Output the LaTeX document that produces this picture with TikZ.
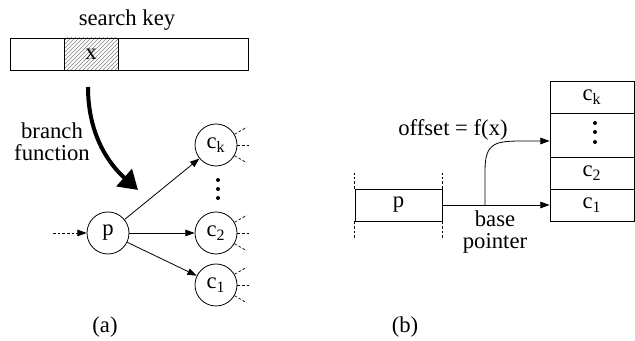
\documentclass[tikz,border=0pt]{standalone}
\usepackage{fontspec}
\setmainfont{Liberation Serif}
\usetikzlibrary{positioning, arrows.meta, patterns, calc}

\tikzset{
    lbl/.style={font=\fontsize{17}{16.5}\selectfont, inner sep=0},
    vertex/.style={draw, circle, minimum size=31.5pt, inner sep=0, line width=0.6pt, lbl},
    cell/.style={draw, rectangle, minimum width=63pt, inner sep=0, line width=0.6pt, lbl},
    link/.style={line width=0.6pt, -{Triangle[length=7pt,width=5pt]}},
    stub/.style={line width=0.5pt, dash pattern=on 2pt off 1.5pt}
}

\begin{document}
\begin{tikzpicture}[x=0.75pt, y=0.75pt]
    \useasboundingbox (0,0) rectangle (635,341);

    % key bar with the hatched slice
    \node[lbl] (key) at (127,321) {search key};
    \node[draw, line width=0.6pt, minimum width=178.5pt, minimum height=24pt, inner sep=0] (bar) at (129,287) {};
    \node[draw, line width=0.6pt, pattern=north east lines, pattern color=gray,
          minimum width=40.5pt, minimum height=24pt, lbl] (xcell) at (91,287) {x};

    % branch arrow
    \coordinate (bstart) at (88,254);
    \coordinate (btip) at (138,151);
    \draw[line width=3pt, -{Triangle[length=14pt,width=17pt]}]
        (bstart) .. controls (88,205) and (110,176) .. (btip);
    \node[lbl, align=center] (bf) at (52,199) {branch\\function};

    % node p and its children
    \node[vertex] (p)  at (108,108) {p};
    \node[vertex] (ck) at (216,196) {c\textsubscript{k}};
    \node[vertex] (c2) at (216,108) {c\textsubscript{2}};
    \node[vertex] (c1) at (216,56)  {c\textsubscript{1}};

    \coordinate (pin) at (53,108);
    \draw[stub, -{Triangle[length=7pt,width=5pt]}] (pin) -- (p);

    \foreach \n in {ck,c2,c1}
    {
        \draw[link] (p) -- (\n);
        \foreach \a in {30,0,-30}
            \draw[stub] (\n.\a) -- ++(\a:14);
    }

    \foreach \y in {161,152,143}
        \fill (218,\y) circle (2);

    % pointer record
    \node[cell, minimum width=65.25pt, minimum height=24pt] (pbox) at (398.5,136) {p};
    \draw[stub] (pbox.north west) -- ++(0,16);
    \draw[stub] (pbox.south west) -- ++(0,-17);
    \draw[stub] (pbox.north east) -- ++(0,16);
    \draw[stub] (pbox.south east) -- ++(0,-17);

    % child table
    \node[cell, minimum height=24pt] (ckrow)  at (592,244) {c\textsubscript{k}};
    \node[cell, minimum height=33pt] (dotrow) at (592,206) {};
    \node[cell, minimum height=24pt] (c2row)  at (592,168) {c\textsubscript{2}};
    \node[cell, minimum height=24pt] (c1row)  at (592,136) {c\textsubscript{1}};

    \foreach \y in {218,209,199}
        \fill (595,\y) circle (2);

    \draw[link] (pbox.east) -- (c1row.west);
    \coordinate (fork) at (485,136);
    \coordinate (offtip) at ($(dotrow.west)+(0,-6)$);
    \draw[link] (fork) -- (485,170) .. controls (485,199) and (495,200) .. (525,200) -- (offtip);

    \node[lbl] (off) at (453,211) {offset = f(x)};
    \node[lbl, align=center] (bp) at (495,109) {base\\pointer};

    % captions
    \node[lbl] (capa) at (105,14) {(a)};
    \node[lbl] (capb) at (405,14) {(b)};
\end{tikzpicture}
\end{document}
